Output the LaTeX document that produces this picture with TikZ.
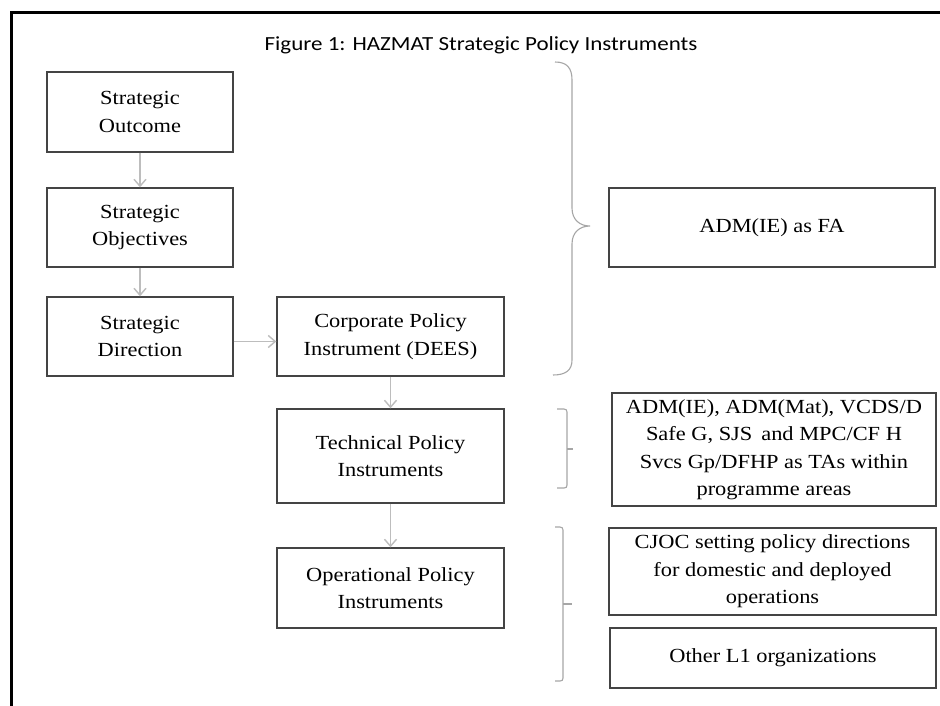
\documentclass[tikz,border=0pt]{standalone}
\usepackage{fontspec}
\setmainfont[FakeStretch=1.12]{Liberation Serif}
\newfontfamily\titlefont[FakeStretch=1.15]{Carlito}
\usetikzlibrary{arrows.meta}
\definecolor{boxgray}{HTML}{444444}
\definecolor{arrgray}{HTML}{BDBDBD}
\definecolor{bracegray}{HTML}{A6A6A6}
\begin{document}
\begin{tikzpicture}[x=1pt,y=-1pt,
  box/.style={draw=boxgray, line width=1.4pt, align=center, inner sep=0pt,
    font=\fontsize{20}{27.5}\selectfont, text=black},
  arr/.style={draw=arrgray, line width=1.4pt, -{Straight Barb[length=7pt,width=12pt]}},
  brace/.style={draw=bracegray, line width=1.1pt}]
\useasboundingbox (0,0) rectangle (940,705);
\fill[white] (0,0) rectangle (940,705);
% frame
\draw[line width=3pt] (941,12) -- (11,12) -- (11,706);
% title
\node (title) at (481,45) {\titlefont\fontsize{20}{24}\selectfont Figure 1: HAZMAT Strategic Policy Instruments};
% left column
\node[box, minimum width=186pt, minimum height=80pt] (b1) at (140,112) {Strategic\\Outcome};
\node[box, minimum width=186pt, minimum height=79pt] (b2) at (140,227.5) {Strategic\\Objectives};
\node[box, minimum width=186pt, minimum height=79pt] (b3) at (140,336.5) {Strategic\\Direction};
\node[box, minimum width=227pt, minimum height=79pt] (b4) at (390.5,336.5) {Corporate Policy\\Instrument (DEES)};
\node[box, minimum width=227pt, minimum height=94pt] (b5) at (390.5,456) {Technical Policy\\Instruments};
\node[box, minimum width=227pt, minimum height=80pt] (b6) at (390.5,588) {Operational Policy\\Instruments};
% right column
\node[box, minimum width=326pt, minimum height=79pt] (r1) at (772,227.5) {ADM(IE) as FA};
\node[box, minimum width=324pt, minimum height=113pt] (r2) at (774,449.5) {ADM(IE), ADM(Mat), VCDS/D\\Safe G, SJS\, and MPC/CF H\\Svcs Gp/DFHP as TAs within\\programme areas};
\node[box, minimum width=327pt, minimum height=87pt] (r3) at (772.5,571.5) {CJOC setting policy directions\\for domestic and deployed\\operations};
\node[box, minimum width=326pt, minimum height=60pt] (r4) at (773,658) {Other L1 organizations};
% arrows
\draw[arr] (b1) -- (b2);
\draw[arr] (b2) -- (b3);
\draw[arr] ([yshift=-5pt]b3.east) -- ([yshift=-5pt]b4.west);
\draw[arr] (b4) -- (b5);
\draw[arr] (b5) -- (b6);
% braces
\draw[brace] (555,62) .. controls (567,62) and (572,68) .. (572,80)
  -- (572,208) .. controls (572,220) and (580,226) .. (590,226)
  .. controls (580,226) and (572,232) .. (572,244)
  -- (572,360) .. controls (572,370) and (566,375) .. (553,375);
\draw[brace] (557,409) -- (564,409) .. controls (566,409) and (567,410) .. (567,412)
  -- (567,485) .. controls (567,487) and (566,488) .. (564,488) -- (557,488);
\draw[brace] (567,449) -- (573,449);
\draw[brace] (555,527) -- (560,527) .. controls (562,527) and (563,528) .. (563,530)
  -- (563,678) .. controls (563,680) and (562,681) .. (560,681) -- (555,681);
\draw[brace] (563,604) -- (572,604);
\end{tikzpicture}
\end{document}
